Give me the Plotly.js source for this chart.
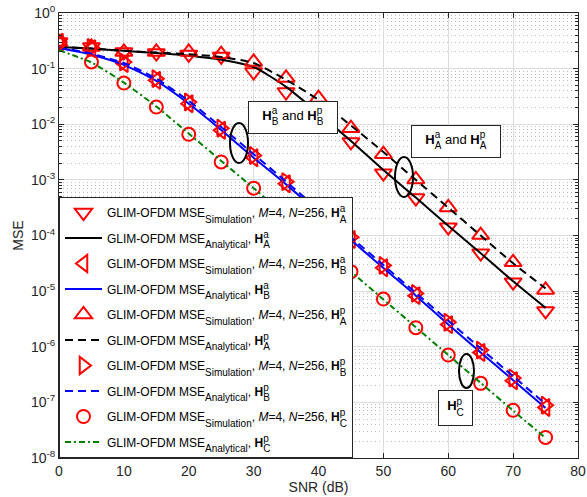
<!DOCTYPE html>
<html>
<head>
<meta charset="utf-8">
<script src="https://cdn.plot.ly/plotly-3.0.1.min.js"></script>
<style>html,body{margin:0;padding:0;background:#fff;}#chart{width:587px;height:497px;}</style>
</head>
<body>
<div id="chart"></div>
<script>
// SNR grid (dB)
const snr = [0,5,10,15,20,25,30,35,40,45,50,55,60,65,70,75];

// H_A^a
const simHAa = [0.30,0.245,0.20,0.19,0.18,0.166,0.087,0.038,0.0126,4.8e-3,1.32e-3,4.7e-4,1.41e-4,4.8e-5,1.45e-5,4.4e-6];
const anaHAa = [0.245,0.229,0.209,0.19,0.17,0.145,0.107,0.047,0.0158,5.0e-3,1.5e-3,4.8e-4,1.5e-4,4.8e-5,1.5e-5,5.0e-6];
// H_B^a
const simHBa = [0.30,0.229,0.123,0.0617,0.0234,7.8e-3,2.5e-3,8.5e-4,2.7e-4,8.5e-5,2.63e-5,8.3e-6,2.5e-6,7.9e-7,2.45e-7,8.1e-8];
const anaHBa = [0.234,0.178,0.117,0.060,0.0234,7.9e-3,2.5e-3,8.3e-4,2.6e-4,8.3e-5,2.6e-5,8.3e-6,2.5e-6,7.9e-7,2.5e-7,7.9e-8];
// H_A^p
const simHAp = [0.30,0.245,0.20,0.20,0.20,0.182,0.132,0.068,0.0295,8.5e-3,2.9e-3,1.02e-3,3.2e-4,1.02e-4,3.3e-5,1.05e-5];
const anaHAp = [0.245,0.229,0.209,0.195,0.182,0.162,0.126,0.063,0.0275,9.5e-3,3.16e-3,1.0e-3,3.16e-4,1.0e-4,3.16e-5,1.12e-5];
// H_B^p
const simHBp = [0.30,0.24,0.132,0.066,0.0251,8.5e-3,2.75e-3,9.3e-4,2.95e-4,9.3e-5,2.9e-5,9.1e-6,2.75e-6,8.7e-7,2.75e-7,8.9e-8];
const anaHBp = [0.24,0.186,0.126,0.066,0.0263,8.9e-3,2.9e-3,9.3e-4,2.95e-4,9.3e-5,2.95e-5,9.3e-6,2.95e-6,9.3e-7,2.95e-7,9.3e-8];
// H_C^p
const simHCp = [0.30,0.132,0.055,0.0204,6.6e-3,2.1e-3,7.1e-4,2.24e-4,7.1e-5,2.24e-5,7.2e-6,2.2e-6,7.1e-7,2.2e-7,7.2e-8,2.34e-8];
const anaHCp = [0.214,0.129,0.056,0.0209,6.8e-3,2.19e-3,7.1e-4,2.24e-4,7.1e-5,2.24e-5,7.1e-6,2.24e-6,7.1e-7,2.24e-7,7.1e-8,2.3e-8];

// axis ticks
const xTicks = [0,10,20,30,40,50,60,70,80];
const yTickVals = [1e-8,1e-7,1e-6,1e-5,1e-4,1e-3,1e-2,1e-1,1];
const yTickText = ['10<sup>-8</sup>','10<sup>-7</sup>','10<sup>-6</sup>','10<sup>-5</sup>','10<sup>-4</sup>','10<sup>-3</sup>','10<sup>-2</sup>','10<sup>-1</sup>','10<sup>0</sup>'];

const yMinor = [];
for (let e = -8; e < 0; e++) for (let k = 2; k <= 9; k++) yMinor.push(k * Math.pow(10, e));

function H(sup, sub, fs) {
  const ls = (fs * 0.556).toFixed(1);
  return '<b>H</b><sup><span style="font-size:' + fs + 'px;letter-spacing:-' + ls + 'px">' + sup +
         '</span></sup><sub><span style="font-size:' + fs + 'px;baseline-shift:-3px">' + sub + '</span></sub>';
}
const SUBFS = 10;
const subTxt = t => '<sub><span style="font-size:' + SUBFS + 'px;baseline-shift:-2.5px">' + t + '</span></sub>';
const simName = (s, p) => 'GLIM-OFDM MSE' + subTxt('Simulation') + ', <i>M</i>=4, <i>N</i>=256, ' + H(p, s, SUBFS);
const anaName = (s, p) => 'GLIM-OFDM MSE' + subTxt('Analytical') + ', ' + H(p, s, SUBFS);

const RED = '#ff0000';
const mk = (sym, size) => ({symbol: sym, size: size, color: RED, line: {color: RED, width: 2}});
const spl = {shape: 'spline', smoothing: 0.6};

const traces = [
  {x: snr, y: simHAa, mode: 'markers', name: simName('A','a'), marker: mk('triangle-down-open', 15), legendgroup: 'g1'},
  {x: snr, y: anaHAa, mode: 'lines', name: anaName('A','a'), line: Object.assign({color: '#000', width: 2}, spl), legendgroup: 'g2'},
  {x: snr, y: simHBa, mode: 'markers', name: simName('B','a'), marker: mk('triangle-left-open', 15), legendgroup: 'g3'},
  {x: snr, y: anaHBa, mode: 'lines', name: anaName('B','a'), line: Object.assign({color: '#0000ff', width: 2}, spl), legendgroup: 'g4'},
  {x: snr, y: simHAp, mode: 'markers', name: simName('A','p'), marker: mk('triangle-up-open', 15), legendgroup: 'g5'},
  {x: snr, y: anaHAp, mode: 'lines', name: anaName('A','p'), line: Object.assign({color: '#000', width: 2, dash: '8px,5px'}, spl), legendgroup: 'g6'},
  {x: snr, y: simHBp, mode: 'markers', name: simName('B','p'), marker: mk('triangle-right-open', 15), legendgroup: 'g7'},
  {x: snr, y: anaHBp, mode: 'lines', name: anaName('B','p'), line: Object.assign({color: '#0000ff', width: 2, dash: '8px,5px'}, spl), legendgroup: 'g8'},
  {x: snr, y: simHCp, mode: 'markers', name: simName('C','p'), marker: mk('circle-open', 13), legendgroup: 'g9'},
  {x: snr, y: anaHCp, mode: 'lines', name: anaName('C','p'), line: Object.assign({color: '#008000', width: 2, dash: '6px,3px,2px,3px'}, spl), legendgroup: 'g10'}
];

const FONT = 'Arial, "Liberation Sans", Helvetica, sans-serif';
const AX = '#262626';

const boxAnn = (x, y, text, w, h) => ({
  xref: 'paper', yref: 'paper', x: x, y: y, text: text, showarrow: false,
  font: {family: FONT, size: 13, color: '#000'}, bgcolor: '#fff', bordercolor: '#262626',
  borderwidth: 1, borderpad: 0, width: w, height: h, xanchor: 'center', yanchor: 'middle'
});
const ell = (x0, x1, y0, y1) => ({type: 'circle', xref: 'paper', yref: 'paper', x0: x0, x1: x1, y0: y0, y1: y1,
  line: {color: '#000', width: 2}});

const layout = {
  width: 587, height: 497,
  margin: {l: 59, r: 9, t: 13, b: 39},
  paper_bgcolor: '#fff', plot_bgcolor: '#fff',
  font: {family: FONT, size: 14, color: AX},
  showlegend: true,
  legend: {
    x: 0, y: 0, xanchor: 'left', yanchor: 'bottom',
    bgcolor: '#fff', bordercolor: AX, borderwidth: 1,
    font: {family: FONT, size: 12, color: '#000'},
    traceorder: 'grouped', tracegroupgap: 6.5, itemwidth: 37
  },
  xaxis: {
    range: [0, 80], tickmode: 'array', tickvals: xTicks,
    showline: true, linecolor: AX, linewidth: 1, mirror: 'ticks',
    ticks: 'inside', ticklen: 5, tickcolor: AX,
    showgrid: true, gridcolor: '#dcdcdc', gridwidth: 1, zeroline: false,
    tickfont: {family: FONT, size: 14, color: AX},
    title: {text: 'SNR (dB)', font: {family: FONT, size: 14, color: AX}, standoff: 4}
  },
  yaxis: {
    type: 'log', range: [-8, 0], tickmode: 'array', tickvals: yTickVals, ticktext: yTickText,
    showline: true, linecolor: AX, linewidth: 1, mirror: 'ticks',
    ticks: 'inside', ticklen: 5, tickcolor: AX,
    showgrid: true, gridcolor: '#dcdcdc', gridwidth: 1, zeroline: false,
    tickfont: {family: FONT, size: 14, color: AX},
    minor: {tickmode: 'array', tickvals: yMinor, ticks: 'inside', ticklen: 3, tickcolor: AX,
            showgrid: true, gridcolor: '#bcbcbc', griddash: '1px,3px', gridwidth: 1},
    title: {text: 'MSE', font: {family: FONT, size: 14, color: AX}, standoff: 4}
  },
  annotations: [
    boxAnn(0.4509, 0.7652, H('a','B',10) + ' and ' + H('p','B',10), 88, 31),
    boxAnn(0.7649, 0.7112, H('a','A',10) + ' and ' + H('p','A',10), 88, 31),
    boxAnn(0.7640, 0.1124, H('p','C',10), 33, 34)
  ],
  shapes: [
    ell(0.3295, 0.3642, 0.6629, 0.7528),
    ell(0.6474, 0.6821, 0.5865, 0.6764),
    ell(0.7707, 0.7996, 0.1573, 0.2337)
  ]
};

Plotly.newPlot('chart', traces, layout, {displayModeBar: false, staticPlot: true});
</script>
</body>
</html>
